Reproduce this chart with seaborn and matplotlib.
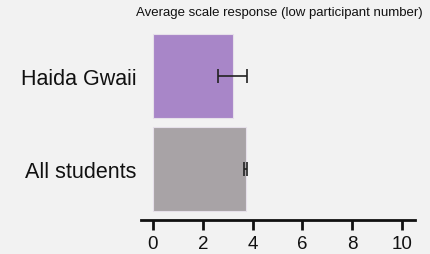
import matplotlib
matplotlib.use("Agg")
import matplotlib.pyplot as plt
import seaborn as sns
import pandas as pd

# Werte
gruppen = ["Haida Gwaii", "All students"]
mittelwerte = [3.2, 3.73]
fehler = [0.57, 0.06]
farben = ["#a886c8", "#a8a3a6"]
x_ticks = [0, 2, 4, 6, 8, 10]

sns.set_style("white", {"xtick.bottom": True})
plt.rcParams["font.family"] = ["Liberation Sans", "DejaVu Sans"]

df = pd.DataFrame({"Gruppe": gruppen, "Wert": mittelwerte})

fig = plt.figure(figsize=(4.3, 2.55), dpi=100, facecolor="#f2f2f2")
ax = fig.add_axes([141 / 430, 34 / 255, 274 / 430, 191 / 255])
ax.set_facecolor("#f2f2f2")

sns.barplot(data=df, y="Gruppe", x="Wert", hue="Gruppe", palette=farben,
            saturation=1, width=0.9, legend=False, errorbar=None, ax=ax,
            edgecolor="#e6e0ea", linewidth=0.8)

ax.errorbar(mittelwerte, range(len(gruppen)), xerr=fehler, fmt="none",
            ecolor="#222222", elinewidth=1.2, capsize=5, capthick=1.2)

ax.set_xlim(-0.48, 10.52)
ax.set_ylim(1.55, -0.5)
ax.set_xticks(x_ticks)
ax.tick_params(axis="x", bottom=True, length=7, width=2, labelsize=13.5,
               color="#111111", labelcolor="#111111")
ax.tick_params(axis="y", left=False, labelsize=15.5, length=0, pad=3.5,
               labelcolor="#111111")
ax.set_xlabel("")
ax.set_ylabel("")

for s in ["top", "right", "left"]:
    ax.spines[s].set_visible(False)
ax.spines["bottom"].set_linewidth(2)
ax.spines["bottom"].set_color("#111111")

fig.text(279 / 430, 1 - 13 / 255, "Average scale response (low participant number)",
         ha="center", va="center", fontsize=9.5, color="#111111")

fig.savefig("out.png", dpi=100, facecolor=fig.get_facecolor())
